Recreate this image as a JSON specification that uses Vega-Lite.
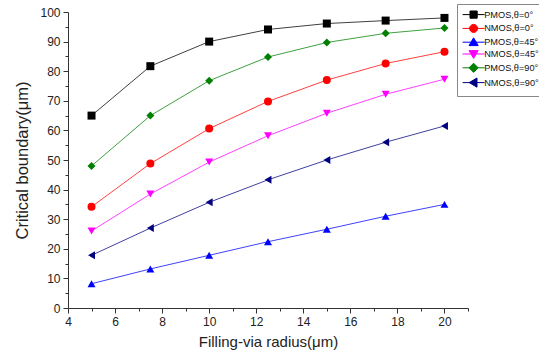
{
  "$schema": "https://vega.github.io/schema/vega-lite/v6.json",
  "width": 400,
  "height": 296,
  "autosize": "none",
  "padding": {"left": 68, "top": 12, "right": 71, "bottom": 55},
  "config": {
    "view": {"stroke": null},
    "font": "Liberation Sans",
    "axis": {"domainColor": "#333", "tickColor": "#333", "labelColor": "#222", "titleColor": "#222", "titleFontWeight": "normal", "grid": false, "labelFont": "Liberation Sans", "titleFont": "Liberation Sans"}
  },
  "data": {
    "values": [
      {"s": "PMOS,θ=0°", "r": 5, "v": 65.0},
      {"s": "PMOS,θ=0°", "r": 7.5, "v": 81.7},
      {"s": "PMOS,θ=0°", "r": 10, "v": 90.0},
      {"s": "PMOS,θ=0°", "r": 12.5, "v": 94.1},
      {"s": "PMOS,θ=0°", "r": 15, "v": 96.1},
      {"s": "PMOS,θ=0°", "r": 17.5, "v": 97.1},
      {"s": "PMOS,θ=0°", "r": 20, "v": 98.0},
      {"s": "NMOS,θ=0°", "r": 5, "v": 34.2},
      {"s": "NMOS,θ=0°", "r": 7.5, "v": 48.8},
      {"s": "NMOS,θ=0°", "r": 10, "v": 60.6},
      {"s": "NMOS,θ=0°", "r": 12.5, "v": 69.8},
      {"s": "NMOS,θ=0°", "r": 15, "v": 77.0},
      {"s": "NMOS,θ=0°", "r": 17.5, "v": 82.6},
      {"s": "NMOS,θ=0°", "r": 20, "v": 86.6},
      {"s": "PMOS,θ=45°", "r": 5, "v": 8.2},
      {"s": "PMOS,θ=45°", "r": 7.5, "v": 13.2},
      {"s": "PMOS,θ=45°", "r": 10, "v": 17.8},
      {"s": "PMOS,θ=45°", "r": 12.5, "v": 22.4},
      {"s": "PMOS,θ=45°", "r": 15, "v": 26.6},
      {"s": "PMOS,θ=45°", "r": 17.5, "v": 31.0},
      {"s": "PMOS,θ=45°", "r": 20, "v": 35.0},
      {"s": "NMOS,θ=45°", "r": 5, "v": 26.0},
      {"s": "NMOS,θ=45°", "r": 7.5, "v": 38.5},
      {"s": "NMOS,θ=45°", "r": 10, "v": 49.3},
      {"s": "NMOS,θ=45°", "r": 12.5, "v": 58.2},
      {"s": "NMOS,θ=45°", "r": 15, "v": 65.8},
      {"s": "NMOS,θ=45°", "r": 17.5, "v": 72.2},
      {"s": "NMOS,θ=45°", "r": 20, "v": 77.3},
      {"s": "PMOS,θ=90°", "r": 5, "v": 48.0},
      {"s": "PMOS,θ=90°", "r": 7.5, "v": 65.0},
      {"s": "PMOS,θ=90°", "r": 10, "v": 76.8},
      {"s": "PMOS,θ=90°", "r": 12.5, "v": 84.8},
      {"s": "PMOS,θ=90°", "r": 15, "v": 89.7},
      {"s": "PMOS,θ=90°", "r": 17.5, "v": 92.8},
      {"s": "PMOS,θ=90°", "r": 20, "v": 94.6},
      {"s": "NMOS,θ=90°", "r": 5, "v": 17.8},
      {"s": "NMOS,θ=90°", "r": 7.5, "v": 27.0},
      {"s": "NMOS,θ=90°", "r": 10, "v": 35.7},
      {"s": "NMOS,θ=90°", "r": 12.5, "v": 43.3},
      {"s": "NMOS,θ=90°", "r": 15, "v": 50.0},
      {"s": "NMOS,θ=90°", "r": 17.5, "v": 56.0},
      {"s": "NMOS,θ=90°", "r": 20, "v": 61.5}
    ]
  },
  "encoding": {
    "x": {
      "field": "r", "type": "quantitative",
      "scale": {"domain": [4, 21], "nice": false, "zero": false},
      "axis": {
        "title": "Filling-via radius(μm)",
        "values": [4,5,6,7,8,9,10,11,12,13,14,15,16,17,18,19,20,21],
        "labelExpr": "datum.value % 2 === 0 && datum.value <= 20 ? datum.label : ''",
        "tickSize": {"condition": {"test": "datum.value % 2 === 0", "value": 5}, "value": 3},
        "labelFontSize": 12, "titleFontSize": 15, "labelPadding": 3, "titlePadding": 7, "labelFlush": false
      }
    },
    "y": {
      "field": "v", "type": "quantitative",
      "scale": {"domain": [0, 100], "nice": false},
      "axis": {
        "title": "Critical boundary(μm)",
        "values": [0,5,10,15,20,25,30,35,40,45,50,55,60,65,70,75,80,85,90,95,100],
        "labelExpr": "datum.value % 10 === 0 ? datum.label : ''",
        "tickSize": {"condition": {"test": "datum.value % 10 === 0", "value": 5}, "value": 3},
        "labelFontSize": 12, "titleFontSize": 16.5, "labelPadding": 3, "titlePadding": 9, "labelFlush": false
      }
    },
    "color": {
      "field": "s", "type": "nominal",
      "scale": {
        "domain": ["PMOS,θ=0°", "NMOS,θ=0°", "PMOS,θ=45°", "NMOS,θ=45°", "PMOS,θ=90°", "NMOS,θ=90°"],
        "range": ["#000000", "#ff0000", "#0000ff", "#ff00ff", "#008000", "#000080"]
      },
      "legend": null
    }
  },
  "resolve": {"scale": {"shape": "independent"}},
  "layer": [
    {
      "mark": {"type": "line", "strokeWidth": 1, "opacity": 0.75},
      "encoding": {"detail": {"field": "s"}}
    },
    {
      "mark": {"type": "point", "filled": true, "size": 64, "opacity": 1},
      "encoding": {
        "shape": {
          "field": "s", "type": "nominal",
          "scale": {
            "domain": ["PMOS,θ=0°", "NMOS,θ=0°", "PMOS,θ=45°", "NMOS,θ=45°", "PMOS,θ=90°", "NMOS,θ=90°"],
            "range": ["square", "circle", "triangle-up", "triangle-down", "diamond", "triangle-left"]
          },
          "legend": null
        }
      }
    },
    {
      "transform": [{"filter": "datum.r < 0"}],
      "mark": {"type": "point", "filled": true, "size": 64},
      "encoding": {
        "shape": {
          "field": "s", "type": "nominal",
          "scale": {
            "domain": ["PMOS,θ=0°", "NMOS,θ=0°", "PMOS,θ=45°", "NMOS,θ=45°", "PMOS,θ=90°", "NMOS,θ=90°"],
            "range": [
              "M-2.75,0H2.75M-0.9,-0.9H0.9V0.9H-0.9Z",
              "M-2.75,0H2.75M1,0A1,1,0,1,1,-1,0A1,1,0,1,1,1,0Z",
              "M-2.75,0H2.75M0,-1.1L1.15,0.85L-1.15,0.85Z",
              "M-2.75,0H2.75M0,1.1L1.15,-0.85L-1.15,-0.85Z",
              "M-2.75,0H2.75M0,-1.15L1.15,0L0,1.15L-1.15,0Z",
              "M-2.75,0H2.75M-1.1,0L0.85,-1.15L0.85,1.15Z"
            ]
          },
          "legend": {
            "title": null, "orient": "none", "legendX": 389, "legendY": -8,
            "strokeColor": "#888", "padding": 6, "labelFontSize": 9.2, "labelColor": "#111",
            "rowPadding": 0.8, "symbolOffset": 6, "labelOffset": 6, "symbolSize": 64,
            "symbolFillColor": {"expr": "scale('color', datum.value)"},
            "symbolStrokeColor": {"expr": "scale('color', datum.value)"},
            "symbolStrokeWidth": 1,
            "symbolOpacity": 1
          }
        }
      }
    }
  ]
}
